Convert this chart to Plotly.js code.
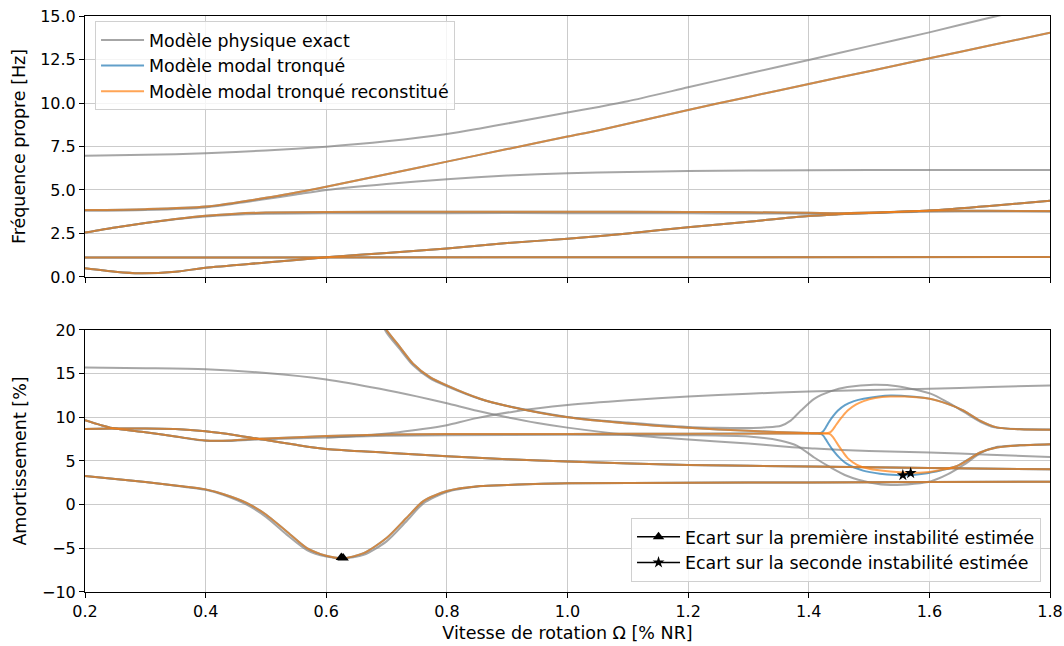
<!DOCTYPE html>
<html>
<head>
<meta charset="utf-8">
<script src="https://cdn.plot.ly/plotly-3.0.1.min.js"></script>
<style>html,body{margin:0;padding:0;background:#fff}#chart{width:1064px;height:646px}</style>
</head>
<body>
<div id="chart"></div>
<script>
// ---------- Top plot: natural frequencies [Hz] ----------
// exact model, highest mode (grey only)
const fTopX = [0.2, 0.3, 0.4, 0.5, 0.6, 0.7, 0.8, 0.855, 0.9, 1.0, 1.054, 1.1, 1.2, 1.3, 1.4, 1.5, 1.6, 1.7, 1.75];
const fTopY = [6.97, 7.02, 7.11, 7.27, 7.49, 7.8, 8.22, 8.54, 8.82, 9.45, 9.79, 10.1, 10.9, 11.7, 12.47, 13.27, 14.06, 14.9, 15.3];
// exact model, mode that plateaus at ~6.2 Hz (grey only)
const fPlatX = [0.2, 0.3, 0.4, 0.5, 0.55, 0.6, 0.7, 0.8, 0.9, 1.0, 1.1, 1.2, 1.4, 1.6, 1.8];
const fPlatY = [3.8, 3.85, 4.0, 4.48, 4.74, 5.0, 5.35, 5.62, 5.83, 5.96, 6.04, 6.09, 6.14, 6.15, 6.15];
// rising mode A (truncated models)
const fAX = [0.2, 0.3, 0.4, 0.5, 0.6, 0.7, 0.8, 0.9, 1.0, 1.054, 1.2, 1.3, 1.4, 1.5, 1.6, 1.7, 1.8];
const fAY = [3.85, 3.9, 4.05, 4.55, 5.19, 5.9, 6.63, 7.35, 8.07, 8.45, 9.6, 10.35, 11.09, 11.83, 12.57, 13.3, 14.04];
// mode C (2.5 -> 3.7 Hz)
const fCX = [0.2, 0.25, 0.3, 0.35, 0.4, 0.45, 0.5, 0.6, 0.8, 1.0, 1.2, 1.3, 1.4, 1.45, 1.5, 1.6, 1.7, 1.8];
const fCY = [2.55, 2.85, 3.1, 3.33, 3.52, 3.64, 3.7, 3.74, 3.75, 3.75, 3.74, 3.72, 3.69, 3.67, 3.7, 3.8, 3.8, 3.79];
const fCgY = [2.55, 2.85, 3.1, 3.32, 3.48, 3.58, 3.63, 3.66, 3.67, 3.67, 3.66, 3.65, 3.64, 3.64, 3.67, 3.75, 3.77, 3.75];
// mode D (low, rising)
const fDX = [0.2, 0.25, 0.29, 0.35, 0.4, 0.5, 0.6, 0.7, 0.8, 0.9, 1.0, 1.1, 1.2, 1.3, 1.4, 1.45, 1.5, 1.6, 1.7, 1.8];
const fDY = [0.5, 0.3, 0.21, 0.3, 0.53, 0.83, 1.13, 1.38, 1.64, 1.95, 2.2, 2.5, 2.86, 3.18, 3.5, 3.6, 3.68, 3.82, 4.08, 4.38];
// mode E (flat)
const fEX = [0.2, 1.0, 1.8];
const fEY = [1.12, 1.13, 1.15];

// ---------- Bottom plot: damping [%] ----------
// exact model mode starting at ~15.5 % (grey only)
const dG1X = [0.2, 0.3, 0.4, 0.5, 0.6, 0.689, 0.75, 0.8, 0.85, 0.9, 0.95, 1.0, 1.1, 1.2, 1.3, 1.353, 1.41, 1.5, 1.6, 1.7, 1.8];
const dG1Y = [15.69, 15.62, 15.5, 15.07, 14.34, 13.27, 12.4, 11.6, 10.75, 10.0, 9.35, 8.82, 8.0, 7.45, 7.0, 6.7, 6.42, 6.15, 5.97, 5.72, 5.47];
// exact model mode rising to ~13.7 % (grey only)
const dG2X = [0.6, 0.62, 0.67, 0.72, 0.76, 0.8, 0.845, 0.91, 1.0, 1.1, 1.2, 1.3, 1.4, 1.5, 1.6, 1.7, 1.8];
const dG2Y = [7.7, 7.75, 7.95, 8.3, 8.65, 9.1, 9.85, 10.65, 11.4, 11.95, 12.38, 12.7, 12.96, 13.13, 13.27, 13.46, 13.65];
// mode O1 (descending from above 20 %, upper branch of the loop)
const dO1X = [0.68, 0.7, 0.722, 0.744, 0.772, 0.8, 0.855, 0.9, 1.0, 1.1, 1.2, 1.3, 1.4, 1.42, 1.43, 1.436, 1.44, 1.444, 1.45, 1.457, 1.465, 1.478, 1.491, 1.51, 1.535, 1.56, 1.6, 1.63, 1.657, 1.684, 1.712, 1.75, 1.8];
const dO1Y = [22.5, 20.0, 18.07, 16.15, 14.6, 13.65, 12.12, 11.3, 10.0, 9.3, 8.8, 8.45, 8.2, 8.17, 8.18, 8.3, 8.6, 9.0, 9.6, 10.2, 10.8, 11.45, 11.85, 12.2, 12.38, 12.37, 12.12, 11.54, 10.77, 9.62, 8.85, 8.62, 8.58];
// blue: truncated model, O1 branch
const dB1X = [0.68, 0.7, 0.722, 0.744, 0.772, 0.8, 0.855, 0.9, 1.0, 1.1, 1.2, 1.3, 1.4, 1.415, 1.42, 1.424, 1.428, 1.433, 1.44, 1.448, 1.46, 1.475, 1.491, 1.536, 1.575, 1.6, 1.63, 1.657, 1.684, 1.712, 1.75, 1.8];
const dB1Y = [22.5, 20.0, 18.07, 16.15, 14.6, 13.65, 12.12, 11.3, 10.0, 9.3, 8.8, 8.45, 8.2, 8.17, 8.2, 8.4, 8.8, 9.4, 10.1, 10.75, 11.4, 11.85, 12.12, 12.5, 12.35, 12.14, 11.54, 10.77, 9.62, 8.85, 8.62, 8.58];
// grey: exact model, O1 branch
const dG3X = [0.68, 0.7, 0.722, 0.744, 0.772, 0.8, 0.855, 0.9, 1.0, 1.1, 1.2, 1.25, 1.3, 1.33, 1.354, 1.37, 1.387, 1.409, 1.437, 1.464, 1.508, 1.547, 1.603, 1.63, 1.658, 1.686, 1.708, 1.75, 1.8];
const dG3Y = [22.3, 19.7, 17.8, 15.95, 14.45, 13.55, 12.1, 11.3, 10.05, 9.4, 8.9, 8.8, 8.78, 8.85, 9.04, 9.62, 10.77, 12.12, 13.0, 13.46, 13.73, 13.57, 12.69, 11.73, 10.58, 9.43, 8.85, 8.66, 8.6];
// mode O2 (starts ~9.7 %, lower branch of the loop)
const dO2X = [0.2, 0.245, 0.3, 0.35, 0.4, 0.44, 0.47, 0.5, 0.6, 0.7, 0.8, 1.0, 1.2, 1.4, 1.42, 1.43, 1.436, 1.44, 1.444, 1.45, 1.457, 1.465, 1.48, 1.5, 1.535, 1.574, 1.6, 1.646, 1.684, 1.712, 1.75, 1.8];
const dO2Y = [9.68, 8.78, 8.3, 7.8, 7.35, 7.35, 7.48, 7.58, 7.85, 8.03, 8.08, 8.1, 8.12, 8.15, 8.16, 8.15, 8.05, 7.75, 7.35, 6.7, 6.0, 5.3, 4.55, 4.1, 3.8, 3.66, 3.74, 4.43, 5.97, 6.54, 6.8, 6.93];
const dB2X = [0.2, 0.245, 0.3, 0.35, 0.4, 0.44, 0.47, 0.5, 0.6, 0.7, 0.8, 1.0, 1.2, 1.4, 1.415, 1.42, 1.424, 1.428, 1.433, 1.441, 1.452, 1.464, 1.49, 1.518, 1.545, 1.563, 1.59, 1.62, 1.646, 1.684, 1.712, 1.75, 1.8];
const dB2Y = [9.68, 8.78, 8.3, 7.8, 7.35, 7.35, 7.48, 7.58, 7.85, 8.03, 8.08, 8.1, 8.12, 8.15, 8.15, 8.1, 7.9, 7.5, 6.95, 6.16, 5.3, 4.63, 3.9, 3.55, 3.4, 3.38, 3.55, 3.95, 4.43, 5.97, 6.54, 6.8, 6.93];
const dG4X = [0.2, 0.245, 0.3, 0.35, 0.4, 0.44, 0.47, 0.5, 0.6, 0.7, 0.8, 1.0, 1.2, 1.3, 1.354, 1.381, 1.409, 1.437, 1.464, 1.503, 1.536, 1.575, 1.603, 1.63, 1.658, 1.686, 1.713, 1.75, 1.8];
const dG4Y = [9.68, 8.78, 8.3, 7.8, 7.32, 7.3, 7.4, 7.5, 7.7, 7.88, 7.95, 8.0, 7.95, 7.8, 7.32, 6.74, 5.4, 4.24, 3.28, 2.51, 2.24, 2.4, 2.69, 3.46, 4.61, 5.96, 6.62, 6.8, 6.88];
// mode O3 (starts ~8.7 %)
const dO3X = [0.2, 0.25, 0.3, 0.35, 0.4, 0.45, 0.5, 0.55, 0.6, 0.7, 0.8, 0.9, 1.0, 1.2, 1.4, 1.6, 1.8];
const dO3Y = [8.66, 8.72, 8.72, 8.66, 8.4, 7.95, 7.4, 6.85, 6.38, 5.95, 5.53, 5.2, 4.93, 4.55, 4.36, 4.2, 4.05];
// mode O4 (dips to about -6 %)
const dO4X = [0.2, 0.25, 0.3, 0.357, 0.4, 0.43, 0.468, 0.5, 0.534, 0.568, 0.6, 0.628, 0.662, 0.7, 0.733, 0.761, 0.8, 0.855, 0.9, 1.0, 1.2, 1.4, 1.6, 1.8];
const dO4Y = [3.28, 2.95, 2.6, 2.13, 1.75, 1.2, 0.21, -1.13, -3.05, -4.98, -5.85, -6.13, -5.55, -3.82, -1.52, 0.4, 1.56, 2.13, 2.25, 2.44, 2.5, 2.55, 2.6, 2.63];
const dG5Y = [3.28, 2.95, 2.6, 2.1, 1.7, 1.1, 0.0, -1.4, -3.4, -5.2, -5.95, -6.15, -5.75, -4.2, -1.9, 0.15, 1.45, 2.1, 2.24, 2.44, 2.5, 2.55, 2.6, 2.63];

// error markers
const firstX = [0.625, 0.628];
const firstY = [-6.05, -6.1];
const secondX = [1.556, 1.569];
const secondY = [3.38, 3.62];

const labels = {
  exact: 'Modèle physique exact',
  trunc: 'Modèle modal tronqué',
  recon: 'Modèle modal tronqué reconstitué',
  first: 'Ecart sur la première instabilité estimée',
  second: 'Ecart sur la seconde instabilité estimée'
};

const GREY = 'rgba(128,128,128,0.7)';
const BLUE = 'rgba(31,119,180,0.7)';
const ORANGE = 'rgba(255,127,14,0.7)';

function line(x, y, color, axes, group, show, name) {
  return {
    type: 'scatter', mode: 'lines', x: x, y: y,
    xaxis: axes[0], yaxis: axes[1],
    line: {color: color, width: 2, shape: 'spline', smoothing: 0.7},
    legendgroup: group, showlegend: !!show, name: name || group,
    hoverinfo: 'skip', legend: 'legend'
  };
}
const T = ['x', 'y'], B = ['x2', 'y2'];
const traces = [
  // grey (exact)
  line(fTopX, fTopY, GREY, T, 'exact', true, labels.exact),
  line(fPlatX, fPlatY, GREY, T, 'exact'),
  line(fCX, fCgY, GREY, T, 'exact'),
  line(fDX, fDY, GREY, T, 'exact'),
  line(fEX, fEY, GREY, T, 'exact'),
  line(dG1X, dG1Y, GREY, B, 'exact'),
  line(dG2X, dG2Y, GREY, B, 'exact'),
  line(dG3X, dG3Y, GREY, B, 'exact'),
  line(dG4X, dG4Y, GREY, B, 'exact'),
  line(dO3X, dO3Y, GREY, B, 'exact'),
  line(dO4X, dG5Y, GREY, B, 'exact'),
  // blue (truncated)
  line(fAX, fAY, BLUE, T, 'trunc', true, labels.trunc),
  line(fCX, fCY, BLUE, T, 'trunc'),
  line(fDX, fDY, BLUE, T, 'trunc'),
  line(fEX, fEY, BLUE, T, 'trunc'),
  line(dB1X, dB1Y, BLUE, B, 'trunc'),
  line(dB2X, dB2Y, BLUE, B, 'trunc'),
  line(dO3X, dO3Y, BLUE, B, 'trunc'),
  line(dO4X, dO4Y, BLUE, B, 'trunc'),
  // orange (reconstituted)
  line(fAX, fAY, ORANGE, T, 'recon', true, labels.recon),
  line(fCX, fCY, ORANGE, T, 'recon'),
  line(fDX, fDY, ORANGE, T, 'recon'),
  line(fEX, fEY, ORANGE, T, 'recon'),
  line(dO1X, dO1Y, ORANGE, B, 'recon'),
  line(dO2X, dO2Y, ORANGE, B, 'recon'),
  line(dO3X, dO3Y, ORANGE, B, 'recon'),
  line(dO4X, dO4Y, ORANGE, B, 'recon'),
  // markers
  {type: 'scatter', mode: 'lines+markers', x: firstX, y: firstY, xaxis: 'x2', yaxis: 'y2',
   line: {color: '#000', width: 1.5}, marker: {symbol: 'triangle-up', size: 10, color: '#000'},
   name: labels.first, legend: 'legend2', legendgroup: 'm1', hoverinfo: 'skip'},
  {type: 'scatter', mode: 'lines+markers', x: secondX, y: secondY, xaxis: 'x2', yaxis: 'y2',
   line: {color: '#000', width: 1.5}, marker: {symbol: 'star', size: 9, color: '#000'},
   name: labels.second, legend: 'legend2', legendgroup: 'm2', hoverinfo: 'skip'}
];

const TICKFONT = {family: 'DejaVu Sans, sans-serif', size: 16, color: '#000'};
const TITLEFONT = {family: 'DejaVu Sans, sans-serif', size: 17.5, color: '#000'};
const LEGFONT = {family: 'DejaVu Sans, sans-serif', size: 17.4, color: '#000'};
const axBase = {
  showline: true, mirror: true, linecolor: '#000', linewidth: 1,
  ticks: 'outside', ticklen: 5, tickwidth: 1, tickcolor: '#000',
  showgrid: true, gridcolor: '#cbcbcb', gridwidth: 1, zeroline: false,
  tickfont: TICKFONT
};
const layout = {
  width: 1064, height: 646,
  margin: {l: 85, r: 14, t: 16, b: 54},
  paper_bgcolor: '#fff', plot_bgcolor: '#fff',
  font: TICKFONT,
  showlegend: true,
  xaxis: Object.assign({}, axBase, {domain: [0, 1], anchor: 'y', range: [0.2, 1.8], dtick: 0.2, tick0: 0.2, showticklabels: false}),
  yaxis: Object.assign({}, axBase, {domain: [0.5469, 1], anchor: 'x', range: [0, 15], dtick: 2.5, tick0: 0, tickformat: '.1f',
    title: {text: 'Fréquence propre [Hz]', font: TITLEFONT, standoff: 10}}),
  xaxis2: Object.assign({}, axBase, {domain: [0, 1], anchor: 'y2', range: [0.2, 1.8], dtick: 0.2, tick0: 0.2, tickformat: '.1f',
    title: {text: 'Vitesse de rotation Ω [% NR]', font: TITLEFONT, standoff: 6}}),
  yaxis2: Object.assign({}, axBase, {domain: [0, 0.4549], anchor: 'x2', range: [-10, 20], dtick: 5, tick0: 0,
    title: {text: 'Amortissement [%]', font: TITLEFONT, standoff: 10}}),
  legend: {x: 0.0104, y: 0.991, xanchor: 'left', yanchor: 'top', bgcolor: 'rgba(255,255,255,0.8)',
    bordercolor: '#d0d0d0', borderwidth: 1, font: LEGFONT, itemwidth: 43, tracegroupgap: 0},
  legend2: {x: 0.9907, y: 0.0174, xanchor: 'right', yanchor: 'bottom', bgcolor: 'rgba(255,255,255,0.8)',
    bordercolor: '#d0d0d0', borderwidth: 1, font: LEGFONT, itemwidth: 43, tracegroupgap: 0}
};
Plotly.newPlot('chart', traces, layout, {displayModeBar: false, staticPlot: true});
</script>
</body>
</html>
